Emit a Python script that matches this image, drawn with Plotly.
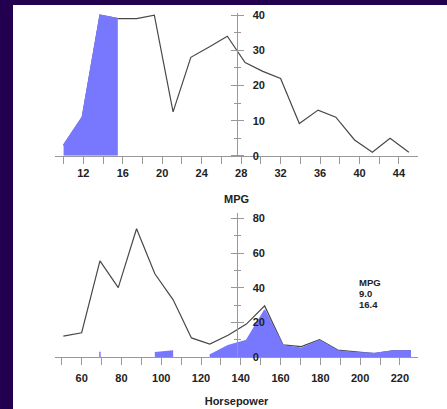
import plotly.graph_objects as go

# ---------------- data ----------------
mpg_x = [10.0, 11.9, 13.7, 15.5, 17.4, 19.2, 21.1, 22.9, 24.8, 26.6,
         28.4, 30.2, 32.0, 33.9, 35.8, 37.6, 39.5, 41.3, 43.1, 45.0]
mpg_all = [3, 11, 40, 39, 39, 40, 12.5, 28, 31, 34,
           26.5, 24, 22, 9.2, 13, 11, 4.5, 1, 5, 1]
mpg_sel = [3, 11, 40, 39, 0, 0, 0, 0, 0, 0,
           0, 0, 0, 0, 0, 0, 0, 0, 0, 0]

hp_x = [50.8, 60.0, 69.2, 78.4, 87.6, 96.8, 106.0, 115.2, 124.4, 133.6,
        142.8, 152.0, 161.2, 170.4, 179.6, 188.8, 198.0, 207.2, 216.4, 225.6]
hp_all = [12, 14, 55.5, 40, 74, 48, 33, 11, 7.5, 12.5,
          19, 29.5, 7, 6, 10, 4, 3, 2, 3.5, 3.5]
hp_sel = [0, 0, 3, 0, 0, 2.5, 3.5, 0, 1, 6.5,
          9.5, 27, 6.5, 5, 9.5, 3.5, 2.5, 2, 3.5, 3.5]

sel_label = ["MPG", "9.0", "16.4"]

mpg_ticks = [12, 16, 20, 24, 28, 32, 36, 40, 44]
hp_ticks = [60, 80, 100, 120, 140, 160, 180, 200, 220]

# ---------------- style / geometry ----------------
W, H = 447, 409
ML, MR, MT, MB = 55, 29, 13, 52.3
PW, PH = W - ML - MR, H - MT - MB
top_dom = [1 - (155.7 - MT) / PH, 1]
bot_dom = [0, (356.7 - 213) / PH]

BG = "#22004f"
FILL = "#7878ff"
LINE = "#484848"
AX = "#999999"
TXT = "#222222"
FONT = dict(family="Liberation Sans", size=11, color=TXT, weight="bold")


def segments(xs, ys):
    segs, cur = [], []
    for x, y in zip(xs, ys):
        if y > 0:
            cur.append((x, y))
        elif cur:
            segs.append(cur)
            cur = []
    if cur:
        segs.append(cur)
    return segs


fig = go.Figure()

# top panel
fig.add_trace(go.Scatter(x=mpg_x, y=mpg_all, mode="lines",
                         line=dict(color=LINE, width=1.2),
                         xaxis="x", yaxis="y", hoverinfo="skip"))
for seg in segments(mpg_x, mpg_sel):
    sx = [p[0] for p in seg]
    sy = [p[1] for p in seg]
    fig.add_trace(go.Scatter(x=sx, y=sy, mode="lines", fill="tozeroy",
                             fillcolor=FILL, line=dict(color=FILL, width=1.5),
                             xaxis="x", yaxis="y", hoverinfo="skip"))
fig.add_trace(go.Scatter(x=mpg_x, y=mpg_all, mode="lines",
                         line=dict(width=0), opacity=0,
                         xaxis="x", yaxis="y3", hoverinfo="skip"))

# bottom panel
fig.add_trace(go.Scatter(x=hp_x, y=hp_all, mode="lines",
                         line=dict(color=LINE, width=1.2),
                         xaxis="x2", yaxis="y2", hoverinfo="skip"))
for seg in segments(hp_x, hp_sel):
    sx = [p[0] for p in seg]
    sy = [p[1] for p in seg]
    if len(seg) == 1:
        fig.add_trace(go.Scatter(x=[sx[0], sx[0]], y=[0, sy[0]], mode="lines",
                                 line=dict(color=FILL, width=1.5),
                                 xaxis="x2", yaxis="y2", hoverinfo="skip"))
    else:
        fig.add_trace(go.Scatter(x=sx, y=sy, mode="lines", fill="tozeroy",
                                 fillcolor=FILL, line=dict(color=FILL, width=1.5),
                                 xaxis="x2", yaxis="y2", hoverinfo="skip"))
fig.add_trace(go.Scatter(x=hp_x, y=hp_all, mode="lines",
                         line=dict(width=0), opacity=0,
                         xaxis="x2", yaxis="y4", hoverinfo="skip"))

xcommon = dict(showgrid=False, zeroline=False, showline=True, linecolor=AX,
               linewidth=1, ticks="outside", ticklen=7, tickcolor=AX,
               tickfont=FONT, fixedrange=True, automargin=False)
ycommon = dict(showgrid=False, zeroline=False, anchor="free", position=0.5,
               linecolor=AX, linewidth=1, tickcolor=AX, tickfont=FONT,
               automargin=False)

ann_font = dict(family="Liberation Sans", size=9.5, color=TXT, weight="bold")
annotations = [dict(text=t, xref="x2", yref="y2", x=198.4, y=43.2,
                    xanchor="left", yanchor="middle", yshift=-11 * i,
                    showarrow=False, font=ann_font)
               for i, t in enumerate(sel_label)]

fig.update_layout(
    width=W, height=H, showlegend=False,
    margin=dict(l=ML, r=MR, t=MT, b=MB, pad=0, autoexpand=False),
    paper_bgcolor="white", plot_bgcolor="white",
    font=FONT,
    xaxis=dict(xcommon, domain=[0, 1], anchor="y", range=[9.13, 45.93],
               tickvals=mpg_ticks, ticklabelstandoff=0,
               minor=dict(dtick=2, tick0=0, ticks="outside",
                          ticklen=7, tickcolor=AX),
               title=dict(text="MPG", font=FONT, standoff=17)),
    yaxis=dict(ycommon, domain=top_dom, range=[0, 40.6], side="right",
               showline=True, ticks="outside", ticklen=6, dtick=10,
               ticklabelstandoff=7,
               minor=dict(dtick=5, ticks="outside", ticklen=3, tickcolor=AX)),
    yaxis3=dict(ycommon, overlaying="y", range=[0, 40.6], side="left",
                showline=False, ticks="outside", ticklen=6, dtick=10,
                showticklabels=False,
                minor=dict(dtick=5, ticks="outside", ticklen=3, tickcolor=AX)),
    xaxis2=dict(xcommon, domain=[0, 1], anchor="y2", range=[46.6, 229.1],
                tickvals=hp_ticks, ticklabelstandoff=4,
                minor=dict(dtick=10, tick0=0, ticks="outside",
                           ticklen=7, tickcolor=AX),
                title=dict(text="Horsepower", font=FONT, standoff=14)),
    yaxis2=dict(ycommon, domain=bot_dom, range=[0, 83], side="right",
                showline=True, ticks="outside", ticklen=6, dtick=20,
                ticklabelstandoff=7,
                minor=dict(dtick=10, ticks="outside", ticklen=3, tickcolor=AX)),
    yaxis4=dict(ycommon, overlaying="y2", range=[0, 83], side="left",
                showline=False, ticks="outside", ticklen=6, dtick=20,
                showticklabels=False,
                minor=dict(dtick=10, ticks="outside", ticklen=3, tickcolor=AX)),
    shapes=[
        dict(type="rect", xref="paper", yref="paper", layer="below",
             x0=-ML / PW, x1=(13 - ML) / PW,
             y0=-MB / PH, y1=1 + MT / PH,
             fillcolor=BG, line=dict(width=0)),
        dict(type="rect", xref="paper", yref="paper", layer="below",
             x0=-ML / PW, x1=(W - ML) / PW,
             y0=1 + (MT - 5) / PH, y1=1 + MT / PH,
             fillcolor=BG, line=dict(width=0)),
    ],
    annotations=annotations,
)

fig.write_html("out.html", config={"displayModeBar": False},
               post_script="document.body.style.margin='0';"
                           "document.body.style.overflow='hidden';"
                           "document.body.style.background='white';"
                           "document.documentElement.style.background='white';")
